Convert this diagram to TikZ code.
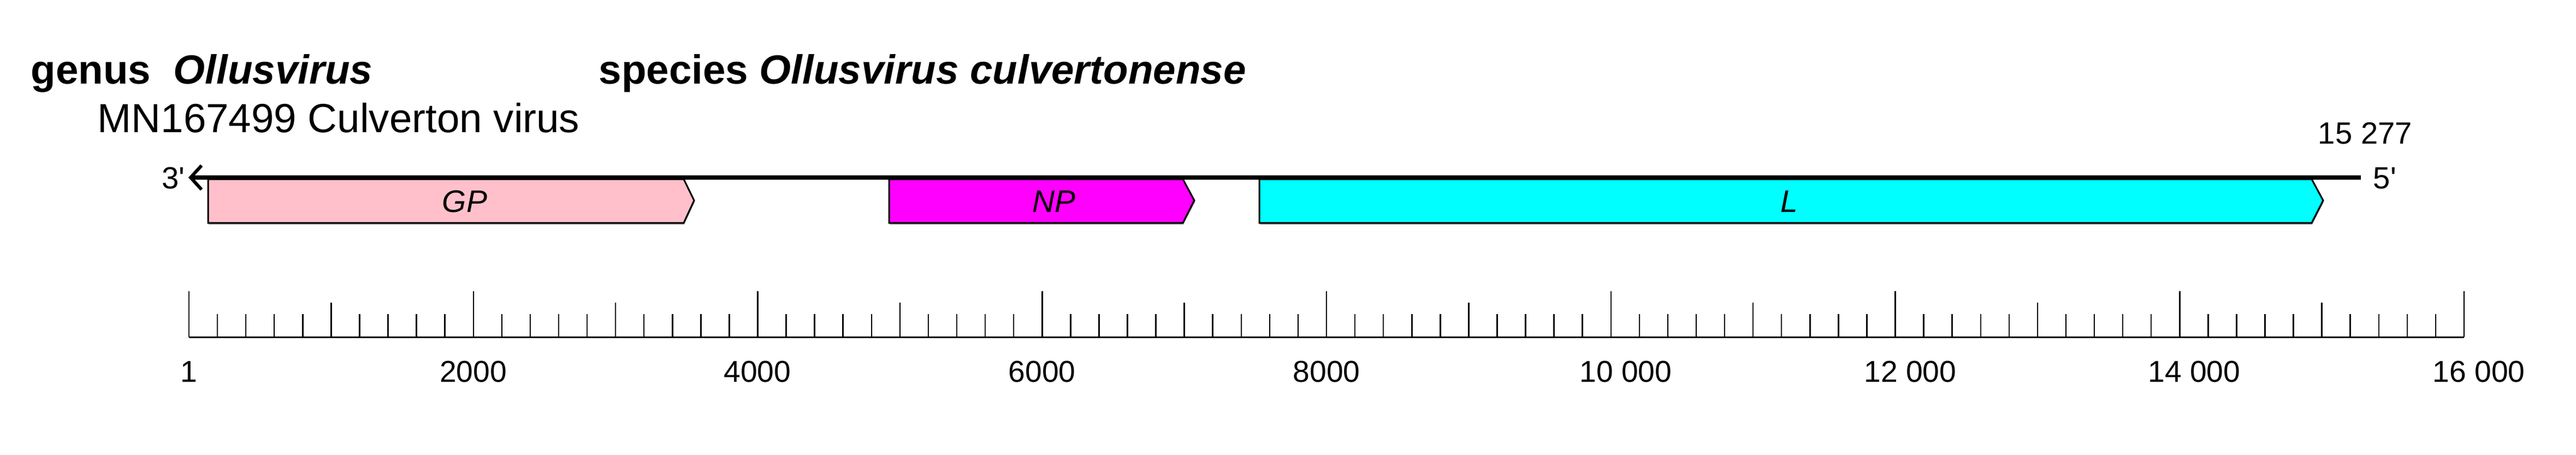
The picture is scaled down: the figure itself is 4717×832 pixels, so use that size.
\documentclass[tikz,border=0pt]{standalone}
\usepackage{fontspec}
\setmainfont{Liberation Sans}
\usetikzlibrary{arrows.meta,shadows}
\definecolor{gppink}{RGB}{255,192,203}
\definecolor{npmagenta}{RGB}{255,0,255}
\definecolor{lcyan}{RGB}{0,255,255}
\begin{document}
\begin{tikzpicture}[x=0.01cm,y=-0.01cm,
    title/.style={inner sep=0,anchor=base west,font=\fontsize{21.2}{25}\selectfont},
    endlabel/.style={inner sep=0,font=\fontsize{16}{19}\selectfont},
    gene/.style={draw,line width=0.03cm,drop shadow={shadow xshift=0.01cm,shadow yshift=-0.03cm,fill=gray!80,opacity=1}},
    genename/.style={inner sep=0,anchor=base,font=\fontsize{16.2}{19}\selectfont\itshape},
    tick/.style={line width=0.025cm},
    scalenum/.style={inner sep=0,anchor=base,font=\fontsize{15.7}{19}\selectfont}]
\useasboundingbox (0,0) rectangle (4717,832);

\node[title] (genus) at (56,153) {\textbf{genus\ \ \textit{Ollusvirus}}};
\node[title] (species) at (1096,153) {\textbf{species \textit{Ollusvirus culvertonense}}};
\node[title] (isolate) at (178,242) {MN167499 Culverton virus};

\draw[gene,fill=gppink] (381,328) -- (1252,328) -- (1271,367) -- (1252,408) -- (381,408) -- cycle;
\draw[gene,fill=npmagenta] (1628,328) -- (2166,328) -- (2187,367) -- (2166,408) -- (1628,408) -- cycle;
\draw[gene,fill=lcyan] (2306,328) -- (4233,328) -- (4254,367) -- (4233,408) -- (2306,408) -- cycle;
\node[genename] (GP) at (851,388) {GP};
\node[genename] (NP) at (1930,388) {NP};
\node[genename] (L) at (3276,388) {L};

\coordinate (five) at (4323,325);
\coordinate (three) at (345,325);
\draw[line width=0.08cm,-{Straight Barb[length=0.2cm,width=0.44cm,line width=0.06cm]}] (five) -- (three);
\node[endlabel,anchor=base east] (end3) at (339,345) {3\textquotesingle};
\node[endlabel,anchor=base west] (end5) at (4345,345) {5\textquotesingle};
\node[endlabel,anchor=base] (len) at (4331,263) {15 277};

\draw[line width=0.03cm] (346,617) -- (4512,617);
\foreach \k in {0,...,80} \draw[tick] ({346+52.075*\k},617) -- ++(0,-42);
\foreach \k in {0,5,...,80} \draw[tick] ({346+52.075*\k},617) -- ++(0,-63);
\foreach \k in {0,10,...,80} \draw[tick] ({346+52.075*\k},617) -- ++(0,-84);
\foreach \lab/\xx [count=\i] in {1/346,2000/866.5,4000/1387,6000/1908,8000/2429,10 000/2977,12 000/3498,14 000/4018,16 000/4539}
    \node[scalenum] (num\i) at (\xx,699) {\lab};
\end{tikzpicture}
\end{document}
